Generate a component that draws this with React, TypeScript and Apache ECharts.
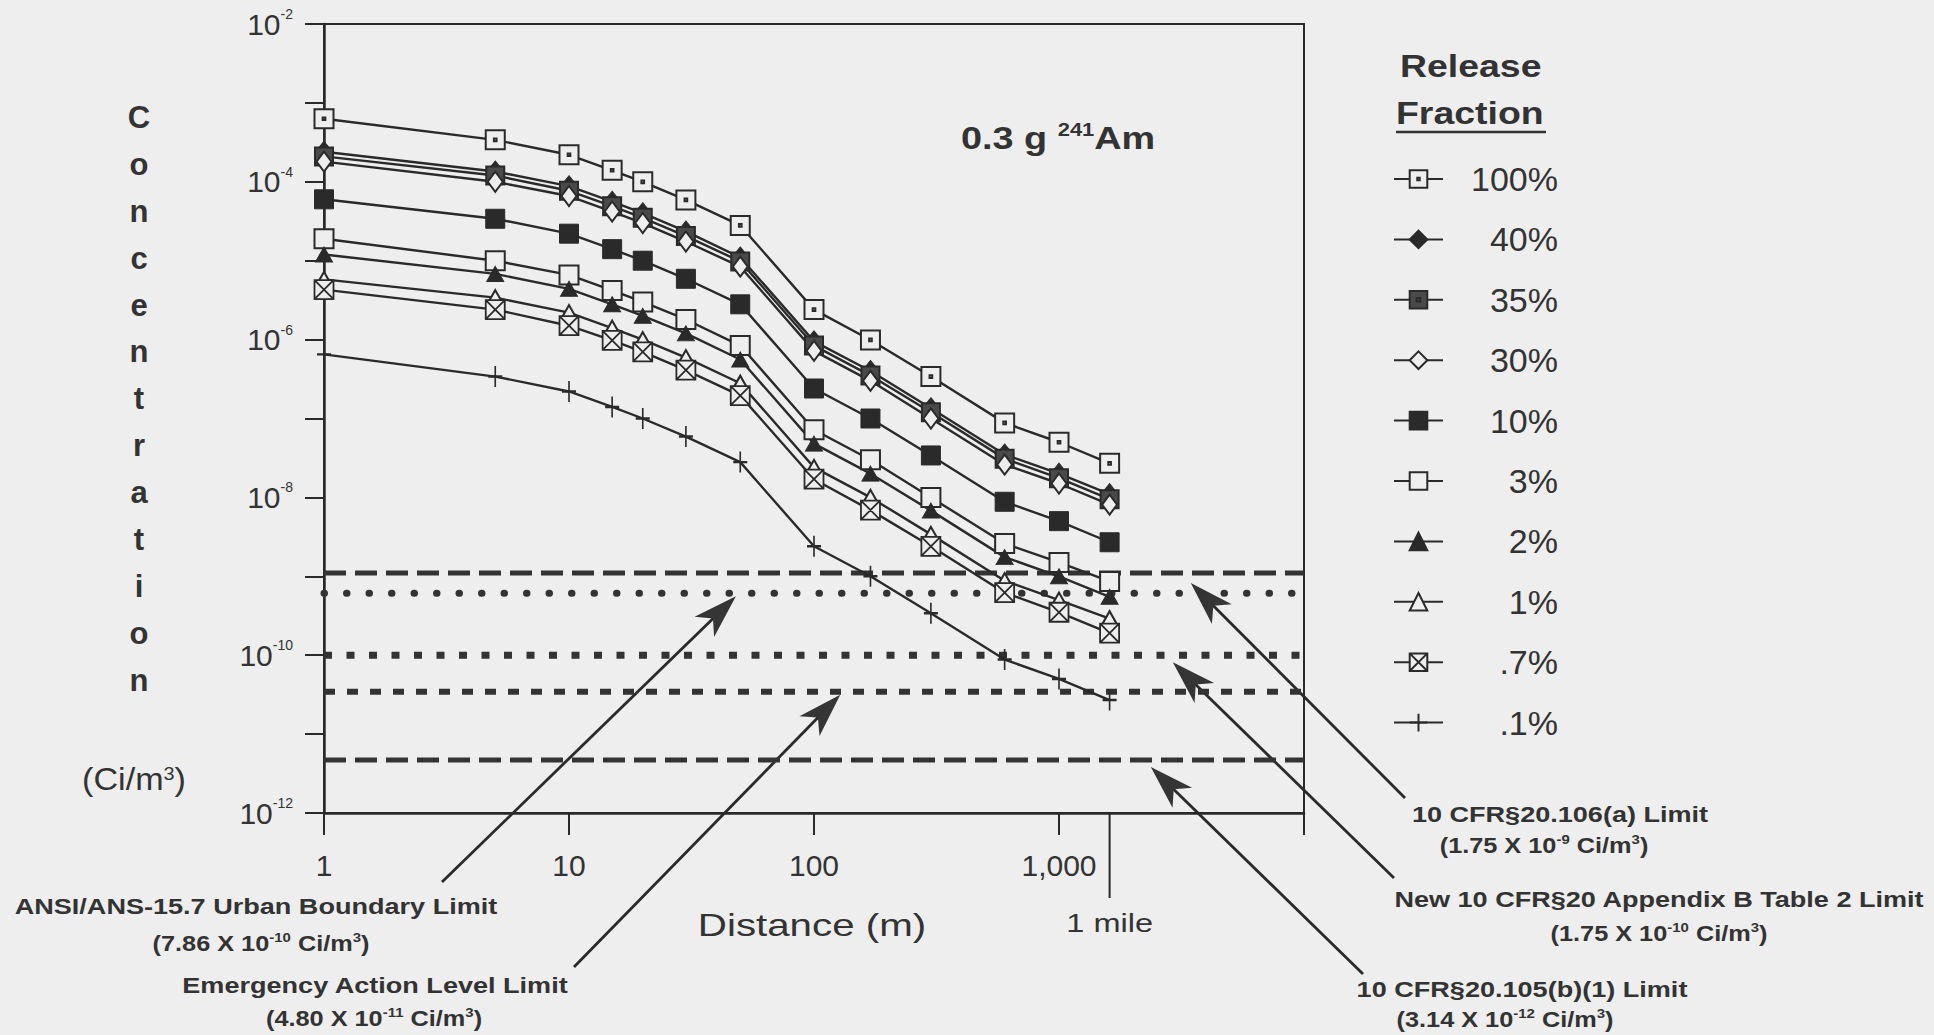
import React, { useEffect, useRef } from 'react';
import * as echarts from 'echarts';

// ---------------- data ----------------
const distances = [1, 5, 10, 15, 20, 30, 50, 100, 170, 300, 600, 1000, 1609];
const releaseFractions = ['100%', '40%', '35%', '30%', '10%', '3%', '2%', '1%', '.7%', '.1%'];

const conc100 = [6.3e-4, 3.4e-4, 2.2e-4, 1.4e-4, 1.0e-4, 5.9e-5, 2.8e-5, 2.4e-6, 9.9e-7, 3.4e-7, 8.8e-8, 5.0e-8, 2.7e-8];
const conc40 = [2.4e-4, 1.35e-4, 8.8e-5, 5.6e-5, 4.0e-5, 2.35e-5, 1.1e-5, 9.5e-7, 4.0e-7, 1.35e-7, 3.5e-8, 2.0e-8, 1.1e-8];
const conc35 = [2.1e-4, 1.2e-4, 7.7e-5, 4.9e-5, 3.5e-5, 2.05e-5, 9.8e-6, 8.4e-7, 3.5e-7, 1.2e-7, 3.1e-8, 1.75e-8, 9.5e-9];
const conc30 = [1.8e-4, 1.0e-4, 6.6e-5, 4.2e-5, 3.0e-5, 1.75e-5, 8.4e-6, 7.2e-7, 3.0e-7, 1.0e-7, 2.6e-8, 1.5e-8, 8.1e-9];
const conc10 = [6.0e-5, 3.4e-5, 2.2e-5, 1.4e-5, 1.0e-5, 5.9e-6, 2.8e-6, 2.4e-7, 1.0e-7, 3.4e-8, 8.8e-9, 5.0e-9, 2.7e-9];
const conc3 = [1.9e-5, 1.0e-5, 6.6e-6, 4.2e-6, 3.0e-6, 1.8e-6, 8.4e-7, 7.2e-8, 3.0e-8, 1.0e-8, 2.6e-9, 1.5e-9, 8.6e-10];
const conc2 = [1.2e-5, 6.8e-6, 4.4e-6, 2.8e-6, 2.0e-6, 1.2e-6, 5.6e-7, 4.8e-8, 2.0e-8, 6.8e-9, 1.75e-9, 1.0e-9, 5.5e-10];
const conc1 = [5.8e-6, 3.4e-6, 2.2e-6, 1.4e-6, 1.0e-6, 5.9e-7, 2.8e-7, 2.4e-8, 1.0e-8, 3.4e-9, 8.8e-10, 5.0e-10, 2.9e-10];
const conc07 = [4.3e-6, 2.4e-6, 1.5e-6, 9.8e-7, 7.0e-7, 4.1e-7, 1.95e-7, 1.7e-8, 6.9e-9, 2.4e-9, 6.2e-10, 3.5e-10, 1.9e-10];
const conc01 = [6.5e-7, 3.4e-7, 2.2e-7, 1.4e-7, 1.0e-7, 5.9e-8, 2.8e-8, 2.4e-9, 1.0e-9, 3.4e-10, 8.8e-11, 5.0e-11, 2.7e-11];
const seriesValues = [conc100, conc40, conc35, conc30, conc10, conc3, conc2, conc1, conc07, conc01];

// limit lines: levels as drawn in the picture, and their captions
const limitLevels = [1.1e-9, 6.1e-10, 1.0e-10, 3.45e-11, 4.7e-12];
const limitTitles = [
  '10 CFR§20.106(a) Limit',
  'ANSI/ANS-15.7 Urban Boundary Limit',
  'New 10 CFR§20 Appendix B Table 2 Limit',
  'Emergency Action Level Limit',
  '10 CFR§20.105(b)(1) Limit',
];
const limitMantissa = ['1.75', '7.86', '1.75', '4.80', '3.14'];
const limitExponent = ['-9', '-10', '-10', '-11', '-12'];
const arrowTipDistance = [3450, 48, 2915, 128, 2370];

const xTickLabels: Record<number, string> = { 1: '1', 10: '10', 100: '100', 1000: '1,000' };
const mileDistance = 1609;

// ---------------- styles / layout ----------------
const FONT = '"Liberation Sans", Arial, Helvetica, sans-serif';
const DARK = '#2a2a2a';
const TEXT = '#333333';
const BG = '#eeeeee';

const markerStyles: any[] = [
  { symbol: 'path://M0,0L10,0L10,10L0,10Z M4.3,4.3L5.7,4.3L5.7,5.7L4.3,5.7Z', size: 19, fill: BG, bw: 2 },
  { symbol: 'diamond', size: [17, 21], fill: DARK, bw: 1 },
  { symbol: 'path://M0,0L10,0L10,10L0,10Z M4,4L6,4L6,6L4,6Z', size: 18, fill: '#4a4a4a', bw: 2 },
  { symbol: 'diamond', size: [15, 20], fill: BG, bw: 2 },
  { symbol: 'rect', size: 19, fill: DARK, bw: 1 },
  { symbol: 'rect', size: 19, fill: BG, bw: 2 },
  { symbol: 'triangle', size: [17, 15], fill: DARK, bw: 1 },
  { symbol: 'triangle', size: [17, 15], fill: BG, bw: 2 },
  { symbol: 'path://M0,0L10,0L10,10L0,10Z M0,0L10,10 M10,0L0,10', size: 19, fill: BG, bw: 1.8 },
  { symbol: 'path://M5,0L5,10 M0,5L10,5', size: [14, 21], fill: 'transparent', bw: 2 },
];

const limitLineStyles: any[] = [
  { width: 5, type: [22, 9], cap: 'butt' },
  { width: 7, type: [0.5, 22], cap: 'round' },
  { width: 7, type: [8, 14.5], cap: 'butt' },
  { width: 6, type: [11, 12], cap: 'butt' },
  { width: 5, type: [22, 9], cap: 'butt' },
];

const arrowTipOffset = [10, 3, 7, 3, 7];
const arrowTails = [[1405, 798], [442, 882], [1394, 878], [574, 967], [1363, 974]];
const captionPos = [
  [[1560, 814], [1544, 846]],
  [[256, 906], [261, 944]],
  [[1659, 899], [1659, 934]],
  [[375, 985], [374, 1019]],
  [[1522, 989], [1505, 1020]],
];

function textEl(x: number, y: number, text: string, size: number, opts: any = {}) {
  const align = opts.align || 'center';
  const rich = opts.rich;
  return {
    type: 'text',
    x,
    y,
    scaleX: opts.scaleX || 1,
    silent: true,
    style: {
      text,
      fill: opts.color || TEXT,
      fontFamily: FONT,
      fontSize: size,
      fontWeight: opts.bold ? 'bold' : 'normal',
      align,
      verticalAlign: opts.vAlign || 'middle',
      textAlign: align,
      textVerticalAlign: opts.vAlign || 'middle',
      lineHeight: opts.lineHeight,
      rich,
    },
  };
}

function arrowEls(tail: number[], tip: number[]) {
  const dx = tip[0] - tail[0];
  const dy = tip[1] - tail[1];
  const L = Math.hypot(dx, dy);
  const ux = dx / L;
  const uy = dy / L;
  const px = -uy;
  const py = ux;
  const len = 44;
  const hw = 14;
  const notch = 32;
  const bx = tip[0] - ux * len;
  const by = tip[1] - uy * len;
  return [
    {
      type: 'line',
      silent: true,
      shape: { x1: tail[0], y1: tail[1], x2: tip[0] - ux * 20, y2: tip[1] - uy * 20 },
      style: { stroke: DARK, lineWidth: 2.8 },
    },
    {
      type: 'polygon',
      silent: true,
      shape: {
        points: [
          [tip[0], tip[1]],
          [bx + px * hw, by + py * hw],
          [tip[0] - ux * notch, tip[1] - uy * notch],
          [bx - px * hw, by - py * hw],
        ],
      },
      style: { fill: '#353535' },
    },
  ];
}

export default function App() {
  const ref = useRef<HTMLDivElement>(null);

  useEffect(() => {
    const chart = echarts.init(ref.current as HTMLDivElement, null, { renderer: 'svg' });

    const dataSeries = releaseFractions.map((name, i) => ({
      name,
      type: 'line',
      data: distances.map((d, j) => [d, seriesValues[i][j]]),
      symbol: markerStyles[i].symbol,
      symbolSize: markerStyles[i].size,
      showAllSymbol: true,
      lineStyle: { color: DARK, width: 2.4 },
      itemStyle: {
        color: markerStyles[i].fill,
        borderColor: DARK,
        borderWidth: markerStyles[i].bw,
      },
      emphasis: { disabled: true },
      z: 3,
    }));

    const limitSeries = limitLevels.map((v, i) => ({
      name: limitTitles[i],
      type: 'line',
      data: [
        [1, v],
        [10000, v],
      ],
      symbol: 'none',
      silent: true,
      lineStyle: { color: '#333', ...limitLineStyles[i] },
      emphasis: { disabled: true },
      z: 2,
    }));

    const option: any = {
      animation: false,
      backgroundColor: BG,
      grid: {
        left: 324,
        top: 24,
        width: 980,
        height: 789,
        show: true,
        borderColor: DARK,
        borderWidth: 2,
        backgroundColor: 'transparent',
      },
      xAxis: {
        type: 'log',
        logBase: 10,
        min: 1,
        max: 10000,
        interval: 1,
        axisLine: { lineStyle: { color: DARK, width: 2.5 } },
        axisTick: { show: true, length: 22, lineStyle: { color: DARK, width: 2 } },
        splitLine: { show: false },
        axisLabel: {
          margin: 37,
          color: TEXT,
          fontFamily: FONT,
          fontSize: 30,
          formatter: (v: number) => xTickLabels[Math.round(v)] || '',
        },
      },
      yAxis: {
        type: 'log',
        logBase: 10,
        min: 1e-12,
        max: 1e-2,
        interval: 1,
        axisLine: { lineStyle: { color: DARK, width: 2.5 } },
        axisTick: { show: true, length: 19, lineStyle: { color: DARK, width: 2 } },
        splitLine: { show: false },
        axisLabel: {
          margin: 31,
          color: TEXT,
          fontFamily: FONT,
          fontSize: 30,
          formatter: (v: number) => {
            const e = Math.round(Math.log10(v));
            return e % 2 === 0 ? `{base|10}{sup|${e}}` : '';
          },
          rich: {
            base: { fontSize: 30, fontFamily: FONT, color: TEXT, lineHeight: 34 },
            sup: { fontSize: 14, fontFamily: FONT, color: TEXT, lineHeight: 16, verticalAlign: 'top' },
          },
        },
      },
      legend: {
        data: releaseFractions,
        orient: 'vertical',
        left: 1388,
        top: 157,
        itemWidth: 49,
        itemHeight: 22,
        itemGap: 26.4,
        selectedMode: false,
        formatter: (name: string) => `{r|${name}}`,
        textStyle: {
          color: TEXT,
          fontFamily: FONT,
          fontSize: 34,
          rich: {
            r: { width: 110, align: 'right', fontSize: 34, lineHeight: 36, fontFamily: FONT, color: TEXT },
          },
        },
      },
      series: [...limitSeries, ...dataSeries],
    };

    chart.setOption(option);

    const px = (d: number, v: number) => chart.convertToPixel({ gridIndex: 0 } as any, [d, v]) as number[];

    const graphics: any[] = [];

    // y axis title (stacked letters) and unit
    graphics.push(
      textEl(139, 94, 'Concentration'.split('').join('\n'), 31, {
        bold: true,
        vAlign: 'top',
        lineHeight: 46.9,
      })
    );
    graphics.push(
      textEl(134, 780, '(Ci/m{s|3})', 31, {
        scaleX: 1.1,
        rich: {
          s: { fontSize: 18, fontFamily: FONT, fill: TEXT, color: TEXT, verticalAlign: 'top', lineHeight: 18 },
        },
      })
    );
    // x axis title
    graphics.push(textEl(812, 925, 'Distance (m)', 31, { scaleX: 1.3 }));

    // 1 mile marker
    const mileTop = px(mileDistance, 1e-12);
    graphics.push({
      type: 'line',
      silent: true,
      shape: { x1: mileTop[0], y1: mileTop[1], x2: mileTop[0], y2: mileTop[1] + 85 },
      style: { stroke: DARK, lineWidth: 2 },
    });
    graphics.push(textEl(mileTop[0], 923, '1 mile', 26, { scaleX: 1.25 }));

    // title
    graphics.push(
      textEl(961, 138, '{a|0.3 g }{s|241}{a|Am}', 31, {
        align: 'left',
        scaleX: 1.22,
        rich: {
          a: { fontSize: 31, fontWeight: 'bold', fontFamily: FONT, fill: TEXT, color: TEXT, lineHeight: 34 },
          s: { fontSize: 18, fontWeight: 'bold', fontFamily: FONT, fill: TEXT, color: TEXT, lineHeight: 20, verticalAlign: 'top' },
        },
      })
    );

    // legend header
    graphics.push(textEl(1400, 66, 'Release', 32, { align: 'left', bold: true, scaleX: 1.17 }));
    graphics.push(textEl(1396, 113, 'Fraction', 32, { align: 'left', bold: true, scaleX: 1.17 }));
    graphics.push({
      type: 'line',
      silent: true,
      shape: { x1: 1396, y1: 132, x2: 1546, y2: 132 },
      style: { stroke: TEXT, lineWidth: 2.5 },
    });

    // limit captions and arrows
    const capRich = {
      t: { fontSize: 22, fontWeight: 'bold', fontFamily: FONT, fill: TEXT, color: TEXT, lineHeight: 26 },
      s: { fontSize: 13, fontWeight: 'bold', fontFamily: FONT, fill: TEXT, color: TEXT, lineHeight: 14, verticalAlign: 'top' },
    };
    limitLevels.forEach((v, i) => {
      const [p1, p2] = captionPos[i];
      graphics.push(textEl(p1[0], p1[1], `{t|${limitTitles[i]}}`, 22, { bold: true, scaleX: 1.23, rich: capRich }));
      graphics.push(
        textEl(
          p2[0],
          p2[1],
          `{t|(${limitMantissa[i]} X 10}{s|${limitExponent[i]}}{t| Ci/m}{s|3}{t|)}`,
          22,
          { bold: true, scaleX: 1.15, rich: capRich }
        )
      );
      const tipBase = px(arrowTipDistance[i], v);
      const tip = [tipBase[0], tipBase[1] + arrowTipOffset[i]];
      graphics.push(...arrowEls(arrowTails[i], tip));
    });

    chart.setOption({ graphic: graphics });

    return () => {
      chart.dispose();
    };
  }, []);

  return (
    <div
      ref={ref}
      style={{ position: 'fixed', left: 0, top: 0, width: 1934, height: 1035, background: BG }}
    />
  );
}
